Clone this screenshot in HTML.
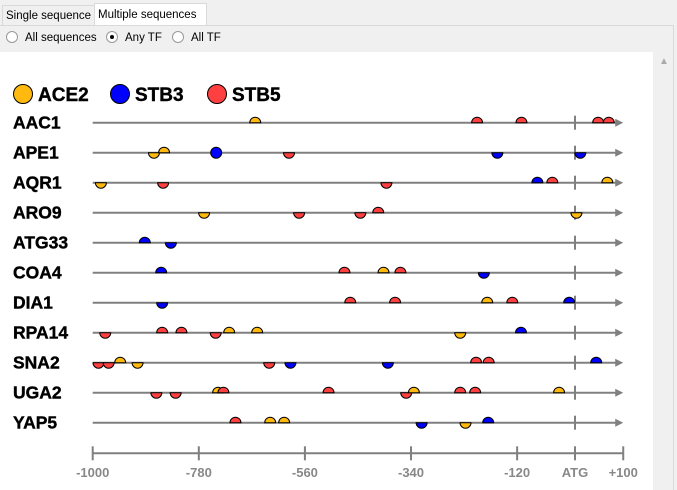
<!DOCTYPE html>
<html><head><meta charset="utf-8"><style>
body{margin:0;width:677px;height:490px;overflow:hidden;background:#f0f0f0;font-family:"Liberation Sans",sans-serif;position:relative}
.tab{position:absolute;font-size:11.5px;color:#000;box-sizing:border-box;border:1px solid #d9d9d9;padding:4px 3px;white-space:nowrap;line-height:13px}
.radio{position:absolute;top:31px;font-size:11.5px;white-space:nowrap;line-height:14px}
.rc{display:inline-block;width:10px;height:10px;border:1px solid #999;border-radius:50%;background:#fff;vertical-align:-2px;margin-right:7px;position:relative}
.rc.on::after{content:"";position:absolute;left:3px;top:3px;width:4px;height:4px;border-radius:50%;background:#000}
</style></head><body>
<div class="tab" style="left:2px;top:5px;width:93px;height:21px;background:#f0f0f0">Single sequence</div>
<div class="tab" style="left:94px;top:3px;width:113px;height:23px;background:#fff;border-bottom:none;padding-top:5px">Multiple sequences</div>
<div style="position:absolute;left:0;top:25px;width:674px;height:465px;border-top:1px solid #d9d9d9;border-right:1px solid #d9d9d9;box-sizing:border-box"></div>
<div class="radio" style="left:6px"><span class="rc"></span>All sequences</div>
<div class="radio" style="left:106px"><span class="rc on"></span>Any TF</div>
<div class="radio" style="left:172px"><span class="rc"></span>All TF</div>
<div style="position:absolute;left:655px;top:52px;width:18px;height:438px;background:#f0f0f0"><div style="position:absolute;left:4px;top:4px;color:#aaa;font-size:10px">&#9650;</div></div>
<svg style="position:absolute;left:0;top:52px" width="653" height="438" viewBox="0 52 653 438">
<rect x="0" y="52" width="653" height="438" fill="#fff"/>
<g id="g"></g>
</svg>
<script>
const genes=["AAC1","APE1","AQR1","ARO9","ATG33","COA4","DIA1","RPA14","SNA2","UGA2","YAP5"];
const tfs=["ACE2","STB3","STB5"];
const tfColors=["#ffb90f","#0000ff","#ff4040"];
const tickValues=[-1000,-780,-560,-340,-120,0,100];
const tickLabels=["-1000","-780","-560","-340","-120","ATG","+100"];
// sites: [geneIndex, tfIndex, position(bp), strand: 1=up,-1=down,0=both]
const sites=[
[0,0,-663,1],[0,2,-203,1],[0,2,-111,1],[0,2,48,1],[0,2,70,1],
[1,0,-873,-1],[1,0,-852,1],[1,1,-744,0],[1,2,-593,-1],[1,1,-161,-1],[1,1,11,-1],
[2,0,-983,-1],[2,2,-854,-1],[2,2,-391,-1],[2,1,-78,1],[2,2,-47,1],[2,0,67,1],
[3,0,-769,-1],[3,2,-572,-1],[3,2,-445,-1],[3,2,-408,1],[3,0,3,-1],
[4,1,-892,1],[4,1,-838,-1],
[5,1,-858,1],[5,2,-478,1],[5,0,-397,1],[5,2,-362,1],[5,1,-189,-1],
[6,1,-856,-1],[6,2,-466,1],[6,2,-373,1],[6,0,-182,1],[6,2,-130,1],[6,1,-12,1],
[7,2,-974,-1],[7,2,-856,1],[7,2,-816,1],[7,2,-745,-1],[7,0,-717,1],[7,0,-659,1],[7,0,-238,-1],[7,1,-112,1],
[8,2,-988,-1],[8,2,-967,-1],[8,0,-943,1],[8,0,-907,-1],[8,2,-634,-1],[8,1,-590,-1],[8,1,-388,-1],[8,2,-205,1],[8,2,-179,1],[8,1,44,1],
[9,2,-868,-1],[9,2,-828,-1],[9,0,-740,1],[9,2,-729,1],[9,2,-511,1],[9,2,-350,-1],[9,0,-334,1],[9,2,-238,1],[9,2,-207,1],[9,0,-33,1],
[10,2,-704,1],[10,0,-632,1],[10,0,-603,1],[10,1,-318,-1],[10,0,-227,-1],[10,1,-180,1]
];
const NS="http://www.w3.org/2000/svg";
const g=document.getElementById("g");
const X=v=>92.7+(v+1000)*0.4823;
const Y=i=>122.7+i*30;
function mk(t,a){const e=document.createElementNS(NS,t);for(const k in a)e.setAttribute(k,a[k]);g.appendChild(e);return e;}
function txt(x,y,s,a){const e=mk("text",Object.assign({x:x,y:y},a));e.textContent=s;return e;}
tfs.forEach((t,i)=>{
 const c=mk("circle",{cx:23+i*97,cy:94,r:9.5,fill:tfColors[i],stroke:"#000","stroke-width":1});
 
 
 const l=txt(38+i*97,101,t,{"font-size":19,"font-weight":"bold",fill:"#000",stroke:"#000","stroke-width":0.4});
 
 
});
genes.forEach((n,i)=>{
 const y=Y(i);
 const l=txt(13,y+6,n,{"font-size":17.5,"font-weight":"bold",fill:"#000",stroke:"#000","stroke-width":0.4});
 
 
 const ln=mk("line",{x1:X(-1000),x2:X(100)-6,y1:y,y2:y,stroke:"#808080","stroke-width":2});
 
 
 const ar=mk("polygon",{points:`${X(100)},${y} ${X(100)-8},${y-4} ${X(100)-8},${y+4}`,fill:"#808080"});
 
 
 const tk=mk("line",{x1:X(0),x2:X(0),y1:y-7,y2:y+7,stroke:"#808080","stroke-width":2});
 
 
});
const r=5.5;
sites.forEach(s=>{
 const x=X(s[2]),y=Y(s[0]),c=tfColors[s[1]];
 let d;
 if(s[3]===1)d=`M${x-r},${y} A${r},${r} 0 0 1 ${x+r},${y} Z`;
 else if(s[3]===-1)d=`M${x-r},${y} A${r},${r} 0 0 0 ${x+r},${y} Z`;
 else d=`M${x-r},${y} A${r},${r} 0 1 1 ${x+r},${y} A${r},${r} 0 1 1 ${x-r},${y} Z`;
 const p=mk("path",{d:d,fill:c,stroke:"#000","stroke-width":1});
 
 
});
const ay=453.3;
const ax=mk("line",{x1:X(-1000),x2:X(100),y1:ay,y2:ay,stroke:"#808080","stroke-width":2});


tickValues.forEach((v,i)=>{
 const t=mk("line",{x1:X(v),x2:X(v),y1:ay-7,y2:ay+7,stroke:"#808080","stroke-width":2});
 
 
 const l=txt(X(v),477,tickLabels[i],{"font-size":13,"font-weight":"bold",fill:"#888","text-anchor":"middle"});
 
 
});
</script>
</body></html>
